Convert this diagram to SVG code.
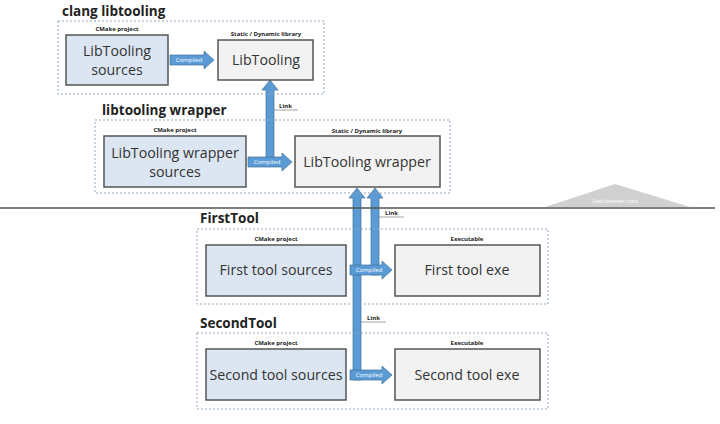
<svg xmlns="http://www.w3.org/2000/svg" width="720" height="424" viewBox="0 0 720 424">
<style>
text{font-family:"Open Sans","Liberation Sans",sans-serif;fill:#222}
.grp{fill:none;stroke:#8fa6bf;stroke-width:1;stroke-dasharray:2 2}
.src{fill:#dce6f2;stroke:#555;stroke-width:1.5}
.out{fill:#f2f2f2;stroke:#555;stroke-width:1.5}
.ttl{font-size:13.5px;font-weight:bold}
.sm{font-size:6px;font-weight:bold;text-anchor:middle}
.big{font-size:14.2px;text-anchor:middle;fill:#333}
.arr{fill:#5b9bd5;stroke:#41719c;stroke-width:0.7}
.cl{font-size:6px;fill:#fff;text-anchor:middle}
.lk{font-size:6px;font-weight:bold}
</style>
<rect width="720" height="424" fill="#fff"/>
<g id="connectors">
<polygon class="arr" points="266,165 266,90 262,90 270,80 278,90 274,90 274,165"/>
<polygon class="arr" points="353,380 353,198 349,198 357,188 365,198 361,198 361,380"/>
<polygon class="arr" points="371,275 371,198 367,198 375,188 383,198 379,198 379,275"/>
<polygon class="arr" points="170,55 204,55 204,51 214,60 204,69 204,65 170,65"/>
<text class="cl" x="189" y="62">Compiled</text>
<polygon class="arr" points="248,157 282,157 282,153 292,162 282,171 282,167 248,167"/>
<text class="cl" x="267" y="164">Compiled</text>
<polygon class="arr" points="350,265 382,265 382,261 392,270 382,279 382,275 350,275"/>
<text class="cl" x="369" y="272">Compiled</text>
<polygon class="arr" points="350,370 382,370 382,366 392,375 382,384 382,380 350,380"/>
<text class="cl" x="369" y="377">Compiled</text>
<text class="lk" x="279" y="108">Link</text>
<line x1="274" y1="110" x2="298" y2="110" stroke="#666" stroke-width="0.6"/>
<text class="lk" x="385" y="215">Link</text>
<line x1="379" y1="217" x2="404" y2="217" stroke="#666" stroke-width="0.6"/>
<text class="lk" x="367" y="320">Link</text>
<line x1="361" y1="322" x2="386" y2="322" stroke="#666" stroke-width="0.6"/>
</g>
<g id="divider">
<line x1="0" y1="208" x2="715" y2="208" stroke="#555" stroke-width="1.5"/>
<polygon points="545,207 615,184 690,207" fill="#d0d0d0"/>
<text x="615" y="203" font-size="5" text-anchor="middle" style="fill:#fff">Used between tools</text>
</g>
<g id="clang">
<text class="ttl" x="62" y="16">clang libtooling</text>
<rect class="grp" x="58" y="21" width="266" height="73"/>
<text class="sm" x="117" y="31">CMake project</text>
<rect class="src" x="66" y="35" width="102" height="50"/>
<text class="big" x="117" y="56">LibTooling</text>
<text class="big" x="117" y="75">sources</text>
<text class="sm" x="266" y="36">Static / Dynamic library</text>
<rect class="out" x="218" y="40" width="95" height="40"/>
<text class="big" x="266" y="65">LibTooling</text>
</g>
<g id="wrapper">
<text class="ttl" x="102" y="115">libtooling wrapper</text>
<rect class="grp" x="95" y="120" width="355" height="73"/>
<text class="sm" x="175" y="132">CMake project</text>
<rect class="src" x="104" y="136" width="142" height="51"/>
<text class="big" x="175" y="158">LibTooling wrapper</text>
<text class="big" x="175" y="177">sources</text>
<text class="sm" x="367" y="133">Static / Dynamic library</text>
<rect class="out" x="295" y="136" width="145" height="51"/>
<text class="big" x="367" y="167">LibTooling wrapper</text>
</g>
<g id="firsttool">
<text class="ttl" x="200" y="223">FirstTool</text>
<rect class="grp" x="197" y="229" width="351" height="75"/>
<text class="sm" x="276" y="241">CMake project</text>
<rect class="src" x="206" y="245" width="140" height="51"/>
<text class="big" x="276" y="275">First tool sources</text>
<text class="sm" x="467" y="241">Executable</text>
<rect class="out" x="395" y="245" width="145" height="51"/>
<text class="big" x="467" y="275">First tool exe</text>
</g>
<g id="secondtool">
<text class="ttl" x="200" y="328">SecondTool</text>
<rect class="grp" x="197" y="333" width="351" height="76"/>
<text class="sm" x="276" y="345">CMake project</text>
<rect class="src" x="206" y="349" width="140" height="51"/>
<text class="big" x="276" y="380">Second tool sources</text>
<text class="sm" x="467" y="345">Executable</text>
<rect class="out" x="395" y="349" width="145" height="51"/>
<text class="big" x="467" y="380">Second tool exe</text>
</g>
</svg>
